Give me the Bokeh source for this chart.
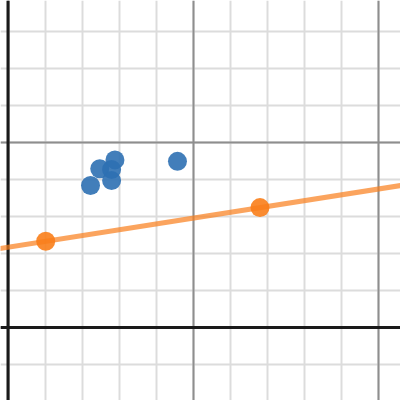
from bokeh.plotting import figure
from bokeh.models import Grid, SingleIntervalTicker, Span, Slope, Range1d
from bokeh.embed import file_html
from bokeh.resources import INLINE

# Data
blue_x = [2.89, 2.48, 2.80, 2.80, 2.23, 4.58]
blue_y = [4.53, 4.29, 4.27, 3.97, 3.84, 4.49]
orange_x = [1.02, 6.81]
orange_y = [2.33, 3.24]
line_slope = (orange_y[1] - orange_y[0]) / (orange_x[1] - orange_x[0])
line_intercept = orange_y[0] - line_slope * orange_x[0]

W = 400
PX = 37.0
x0 = -7.5 / PX
y_top = 327 / PX
p = figure(width=W, height=W, output_backend="svg", toolbar_location=None,
           x_range=Range1d(x0, x0 + W / PX), y_range=Range1d(y_top - W / PX, y_top),
           min_border=0, outline_line_color=None)
p.xaxis.visible = False
p.yaxis.visible = False
p.xgrid.visible = False
p.ygrid.visible = False

minor_col = "#dcdcdc"
major_col = "#8e8e8e"
for dim in (0, 1):
    p.add_layout(Grid(dimension=dim, ticker=SingleIntervalTicker(interval=1),
                      grid_line_color=minor_col, grid_line_width=2))
for dim in (0, 1):
    p.add_layout(Grid(dimension=dim, ticker=SingleIntervalTicker(interval=5),
                      grid_line_color=major_col, grid_line_width=2))

p.add_layout(Span(location=0, dimension="height", line_color="#1a1a1a", line_width=3))
p.add_layout(Span(location=0, dimension="width", line_color="#1a1a1a", line_width=3))

p.add_layout(Slope(gradient=line_slope, y_intercept=line_intercept,
                   line_color="#fa7e19", line_alpha=0.7, line_width=5))

p.scatter(blue_x, blue_y, size=19, fill_color="#2d70b3", fill_alpha=0.9, line_color=None)
p.scatter(orange_x, orange_y, size=19, fill_color="#fa7e19", fill_alpha=0.9, line_color=None)

open("out.html", "w").write(file_html(p, INLINE))
